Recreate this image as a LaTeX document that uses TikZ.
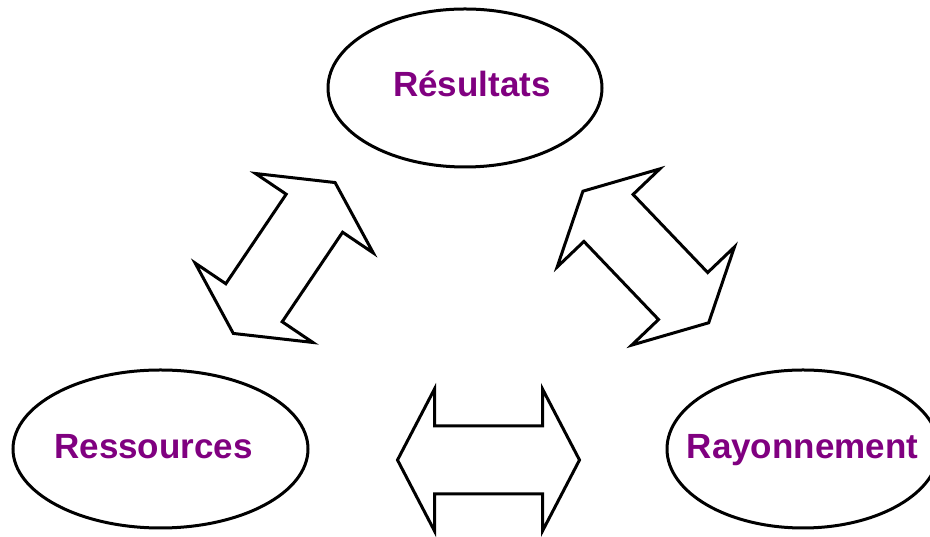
\documentclass[tikz,border=0pt]{standalone}
\usepackage{fontspec}
\setmainfont{Liberation Sans}
\usetikzlibrary{shapes.geometric}
\definecolor{labelpurple}{HTML}{800080}
\tikzset{
  oval/.style={ellipse, draw=black, line width=3pt, fill=white, inner sep=0pt},
  word/.style={anchor=base, inner sep=0pt, text=labelpurple,
               font=\fontsize{35}{40}\selectfont\bfseries},
  arrowline/.style={draw=black, line width=3pt, fill=white, line join=miter},
  twoway/.pic={
    \path[arrowline] (-91,0) -- (-54,71) -- (-54,34) -- (54,34) -- (54,71)
      -- (91,0) -- (54,-71) -- (54,-34) -- (-54,-34) -- (-54,-71) -- cycle;
  }
}
\begin{document}
\begin{tikzpicture}[x=1pt,y=1pt]
  \useasboundingbox (0,0) rectangle (930,537);
  % the three poles
  \node[oval, minimum width=274pt, minimum height=158pt] (res) at (465,449) {};
  \node[oval, minimum width=295pt, minimum height=158pt] (ress) at (160.5,88) {};
  \node[oval, minimum width=272pt, minimum height=158pt] (ray) at (803,88) {};
  \node[word] (resT) at (472,440) {Résultats};
  \node[word] (ressT) at (153.5,78) {Ressources};
  \node[word] (rayT) at (802.5,78) {Rayonnement};
  % two-way exchanges between the poles
  \coordinate (mL) at (284.2,279);
  \coordinate (mR) at (645.8,280);
  \coordinate (mB) at (488.5,77);
  \pic[rotate=56] at (mL) {twoway};
  \pic[rotate=-46.3] at (mR) {twoway};
  \pic at (mB) {twoway};
\end{tikzpicture}
\end{document}
